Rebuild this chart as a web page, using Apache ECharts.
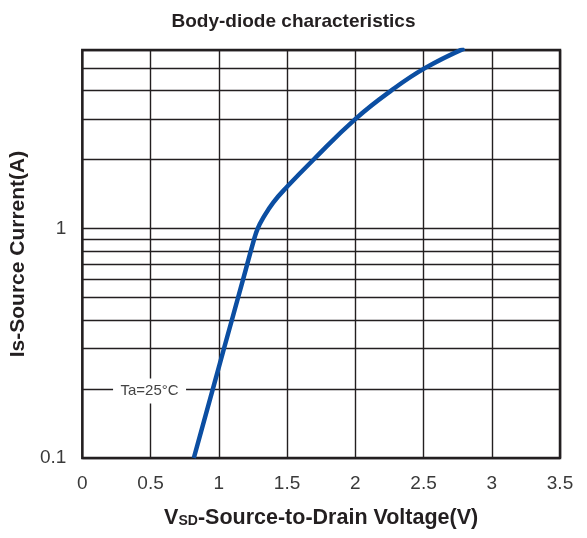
<!DOCTYPE html>
<html>
<head>
<meta charset="utf-8">
<script src="https://cdn.jsdelivr.net/npm/echarts@6/dist/echarts.min.js"></script>
<style>html,body{margin:0;padding:0;background:#fff;}#c{width:587px;height:538px;}</style>
</head>
<body>
<div id="c"></div>
<script>
// Curve: Vsd (V) vs Is (A)
const vsd = [0.817, 1.038, 1.178, 1.259, 1.285, 1.32, 1.40, 1.50, 1.695, 2.0, 2.265, 2.51, 2.80];
const isCur = [0.1, 0.3, 0.6, 0.9, 1.0, 1.1, 1.3, 1.52, 2.0, 3.0, 4.0, 5.0, 6.1];
// Minor log grid lines of current axis
const minorGrid = [0.2, 0.3, 0.4, 0.5, 0.6, 0.7, 0.8, 0.9, 2, 3, 4, 5];
const xTicks = [0, 0.5, 1, 1.5, 2, 2.5, 3, 3.5];
const yTicks = [0.1, 1];
const note = { x: 0.5, y: 0.2, text: 'Ta=25°C' };

const FONT = 'Liberation Sans, Arial, sans-serif';
const gridColor = '#231f20';
const chart = echarts.init(document.getElementById('c'));
chart.setOption({
  animation: false,
  title: {
    text: 'Body-diode characteristics',
    left: 'center', top: 7,
    textStyle: { fontFamily: FONT, fontWeight: 'bold', fontSize: 19, color: '#231f20' }
  },
  grid: { left: 82, right: 27, top: 50, bottom: 80, show: true, borderColor: gridColor, borderWidth: 2.5, backgroundColor: 'transparent' },
  xAxis: {
    type: 'value', min: xTicks[0], max: xTicks[xTicks.length - 1], interval: 0.5,
    name: '{v|V}{s|SD}{v|-Source-to-Drain Voltage(V)}',
    nameLocation: 'middle', nameGap: 49,
    nameTextStyle: {
      rich: {
        v: { fontFamily: FONT, fontWeight: 'bold', fontSize: 21.5, color: '#231f20' },
        s: { fontFamily: FONT, fontWeight: 'bold', fontSize: 14, color: '#231f20', padding: [6, 0, 0, 0] }
      }
    },
    axisLine: { show: false }, axisTick: { show: false },
    axisLabel: { margin: 16, fontFamily: FONT, fontSize: 19, color: '#3a3a3a', formatter: v => String(v) },
    splitLine: { show: true, lineStyle: { color: gridColor, width: 1.4 } }
  },
  yAxis: {
    type: 'log', logBase: 10, min: yTicks[0], max: 6,
    name: 'Is-Source Current(A)', nameLocation: 'middle', nameGap: 41,
    nameTextStyle: { fontFamily: FONT, fontWeight: 'bold', fontSize: 21, color: '#231f20' },
    axisLine: { show: false }, axisTick: { show: false },
    axisLabel: { margin: 16, showMaxLabel: false, fontFamily: FONT, fontSize: 19, color: '#3a3a3a',
      formatter: v => (yTicks.some(t => Math.abs(t - v) < 1e-9) ? String(+v.toPrecision(3)) : '') },
    splitLine: { show: true, lineStyle: { color: gridColor, width: 1.4 } }
  },
  series: [
    {
      type: 'line', z: 1, data: [], silent: true,
      markLine: {
        silent: true, symbol: 'none', z: 1, label: { show: false },
        lineStyle: { color: gridColor, width: 1.4, type: 'solid' },
        data: minorGrid.map(v => ({ yAxis: v }))
      }
    },
    {
      type: 'scatter', z: 3, data: [], silent: true,
      markPoint: {
        z: 3, silent: true,
        data: [{
          coord: [note.x, note.y], symbol: 'rect', symbolSize: [73, 25], symbolOffset: [-1, 2],
          itemStyle: { color: '#fff' },
          label: { show: true, position: 'inside', formatter: note.text, fontFamily: FONT, fontSize: 15, color: '#444' }
        }]
      }
    },
    {
      type: 'line', z: 5, smooth: 0.45, symbol: 'none',
      data: vsd.map((x, i) => [x, isCur[i]]),
      lineStyle: { color: '#0b4ea2', width: 4.5 }
    }
  ]
});
</script>
</body>
</html>
